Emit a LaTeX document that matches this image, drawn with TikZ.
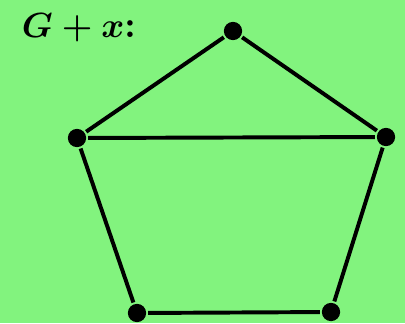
\documentclass[tikz,border=0pt]{standalone}
\usepackage{tikz}
\usepackage{amsmath,amssymb}
\usetikzlibrary{positioning}
\definecolor{bggreen}{RGB}{130,243,126}
\tikzset{vtx/.style={circle,fill=black,inner sep=0pt,minimum size=13pt}}
\begin{document}
\begin{tikzpicture}[x=0.025cm,y=-0.025cm,line width=2.8pt]
  \fill[bggreen] (0,0) rectangle (405,323);
  \useasboundingbox (0,0) rectangle (405,323);
  \node[anchor=base west,inner sep=0pt,font=\fontsize{27}{32}\selectfont] (lbl) at (20,37) {$\boldsymbol{G\mathbin{+}x}$\textbf{:}};

  \node[vtx] (T)  at (233,31)  {};
  \node[vtx] (L)  at (77,138)  {};
  \node[vtx] (R)  at (386,137) {};
  \node[vtx] (BL) at (137,313) {};
  \node[vtx] (BR) at (331,312) {};

  \draw (T) -- (L);
  \draw (T) -- (R);
  \draw (L) -- (R);
  \draw (L) -- (BL);
  \draw (BL) -- (BR);
  \draw (BR) -- (R);
\end{tikzpicture}
\end{document}
